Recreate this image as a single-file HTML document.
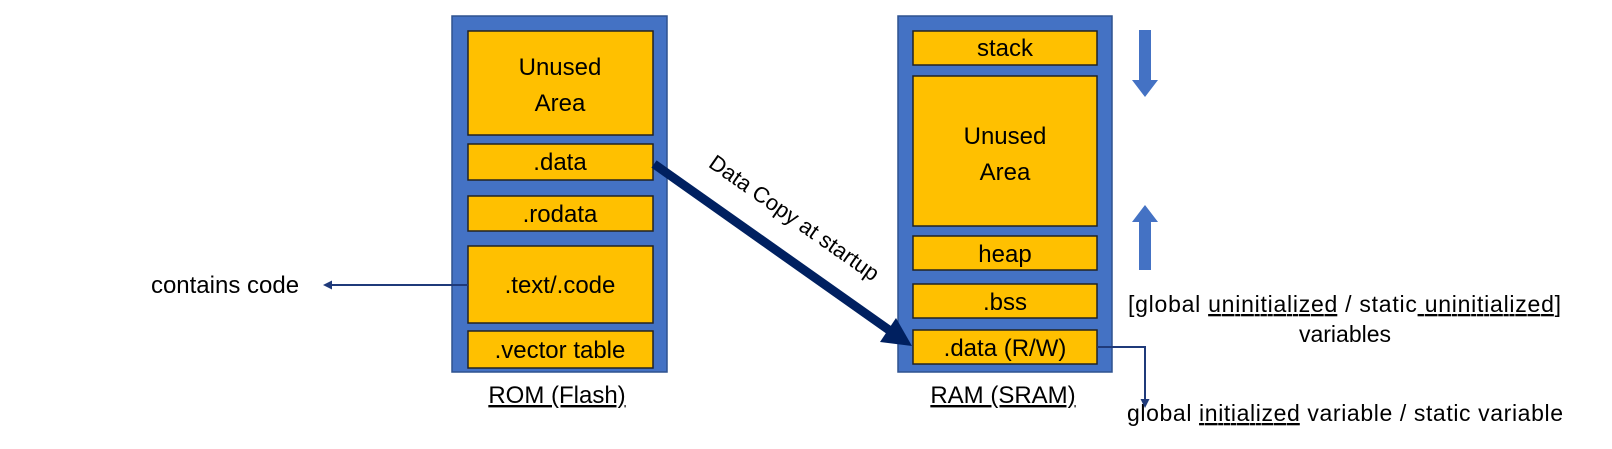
<!DOCTYPE html>
<html><head><meta charset="utf-8"><style>
html,body{margin:0;padding:0;background:#fff;width:1612px;height:449px;overflow:hidden}
text{font-family:"Liberation Sans",sans-serif;fill:#000}
</style></head><body>
<svg width="1612" height="449" viewBox="0 0 1612 449" xmlns="http://www.w3.org/2000/svg">
<defs>
<marker id="a" markerWidth="9" markerHeight="9" refX="7" refY="4.5" orient="auto" markerUnits="userSpaceOnUse"><path d="M0,0 L9,4.5 L0,9 z" fill="#1f3a7a"/></marker>
</defs>
<g stroke="#2f528f" stroke-width="1.5">
<rect x="452" y="16" width="215" height="356" fill="#4472c4"/>
<rect x="898" y="16" width="214" height="356" fill="#4472c4"/>
</g>
<g fill="#ffc000" stroke="#222" stroke-width="1.5">
<rect x="468" y="31" width="185" height="104"/>
<rect x="468" y="144" width="185" height="36"/>
<rect x="468" y="196" width="185" height="35"/>
<rect x="468" y="246" width="185" height="77"/>
<rect x="468" y="331" width="185" height="37"/>
<rect x="913" y="31" width="184" height="34"/>
<rect x="913" y="76" width="184" height="150"/>
<rect x="913" y="236" width="184" height="34"/>
<rect x="913" y="284" width="184" height="34"/>
<rect x="913" y="330" width="184" height="34"/>
</g>
<g font-size="24" text-anchor="middle">
<text x="560" y="75">Unused</text>
<text x="560" y="111">Area</text>
<text x="560" y="170">.data</text>
<text x="560" y="222">.rodata</text>
<text x="560" y="293">.text/.code</text>
<text x="560" y="358">.vector table</text>
<text x="1005" y="56">stack</text>
<text x="1005" y="144">Unused</text>
<text x="1005" y="180">Area</text>
<text x="1005" y="262">heap</text>
<text x="1005" y="310">.bss</text>
<text x="1005" y="356">.data (R/W)</text>
<text x="557" y="403" text-decoration="underline">ROM (Flash)</text>
<text x="1003" y="403" text-decoration="underline">RAM (SRAM)</text>
<text x="225" y="293">contains code</text>
</g>
<g font-size="23">
<text x="1128" y="312" textLength="433">[global <tspan text-decoration="underline">uninitialized</tspan> / static<tspan text-decoration="underline"> uninitialized</tspan>]</text>
<text x="1345" y="342" text-anchor="middle">variables</text>
<text x="1127" y="421" textLength="436">global <tspan text-decoration="underline">initialized</tspan> variable / static variable</text>
</g>
<line x1="468" y1="285" x2="325" y2="285" stroke="#1f3a7a" stroke-width="2" marker-end="url(#a)"/>
<polyline points="1097,347 1145,347 1145,406" fill="none" stroke="#1f3a7a" stroke-width="2" marker-end="url(#a)"/>
<line x1="654" y1="164" x2="889" y2="330" stroke="#002060" stroke-width="9"/>
<polygon points="912,346 880,342 896,318" fill="#002060"/>
<text x="790" y="224" font-size="22" text-anchor="middle" transform="rotate(35 790 224)">Data Copy at startup</text>
<polygon points="1139,30 1151,30 1151,80 1158,80 1145,97 1132,80 1139,80" fill="#4472c4"/>
<polygon points="1139,270 1151,270 1151,222 1158,222 1145,205 1132,222 1139,222" fill="#4472c4"/>
</svg>
</body></html>
